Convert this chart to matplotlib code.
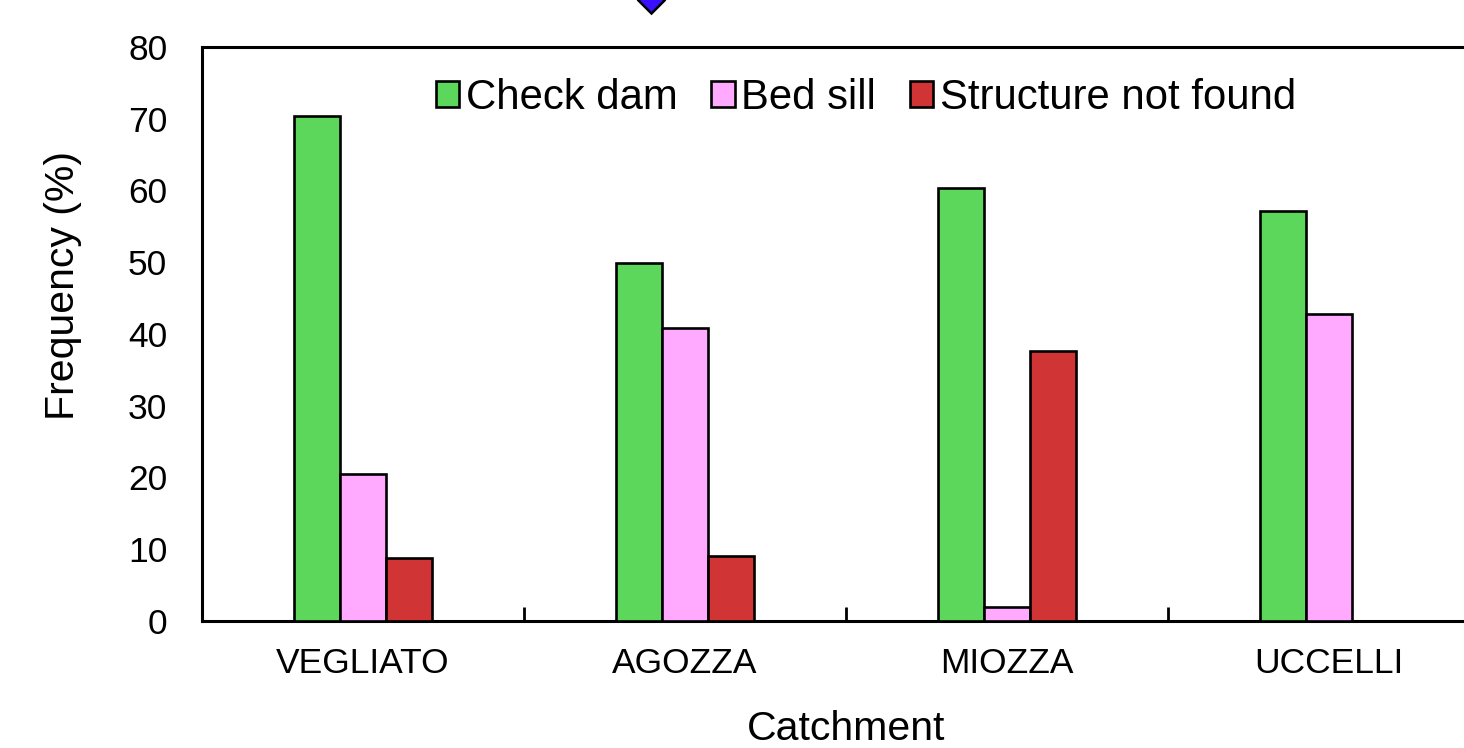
import matplotlib
matplotlib.use("Agg")
import matplotlib.pyplot as plt
import numpy as np

plt.rcParams['font.family'] = ['Liberation Sans', 'DejaVu Sans']

categories = ["VEGLIATO", "AGOZZA", "MIOZZA", "UCCELLI"]
check_dam = [70.4, 49.9, 60.3, 57.1]
bed_sill = [20.5, 40.8, 1.9, 42.8]
not_found = [8.8, 9.0, 37.6, 0.0]
series_names = ["Check dam", "Bed sill", "Structure not found"]
colors = ["#5cd75c", "#ffaaff", "#d03434"]

# partially visible marker at the top of the cropped figure
marker_x = [0.894]
marker_y = [86.6]

fig = plt.figure(figsize=(14.64, 7.48), dpi=100)
ax = fig.add_axes([202/1464, 1-621/748, 1288/1464, 574/748])

x = np.arange(len(categories))
w = 0.143
for i, (vals, name, c) in enumerate(zip([check_dam, bed_sill, not_found], series_names, colors)):
    ax.bar(x + (i-1)*w, vals, width=w, color=c, edgecolor="black", linewidth=1.9, label=name, zorder=3)

ax.plot(marker_x, marker_y, marker='D', markersize=13.7, color="#3a10ff",
        markeredgecolor="black", markeredgewidth=1.8, clip_on=False, zorder=5)

ax.set_xlim(-0.5, 3.5)
ax.set_ylim(0, 80)
ax.set_yticks(np.arange(0, 81, 10))
ax.set_xticks(x)
ax.set_xticklabels(categories)
ax.set_xticks(np.arange(-0.5, 3.6, 1), minor=True)
ax.tick_params(axis='x', which='major', length=0, pad=19, labelsize=25.5)
ax.tick_params(axis='x', which='minor', direction='in', length=10, width=2.0)
ax.tick_params(axis='y', length=0, pad=25, labelsize=25.5)

for s in ax.spines.values():
    s.set_linewidth(2.2)

ax.set_xlabel("Catchment", fontsize=29.5, labelpad=21)
ax.set_ylabel("Frequency (%)", fontsize=29.5)
ax.yaxis.set_label_coords(-0.0935, 0.585)

ax.legend(loc='center', bbox_to_anchor=(0.5155, 0.911), ncol=3, frameon=False,
          fontsize=30.2, handlelength=0.56, handleheight=0.56, handletextpad=0.16,
          columnspacing=0.8, borderpad=0, borderaxespad=0)

fig.savefig("out.png", dpi=100)
